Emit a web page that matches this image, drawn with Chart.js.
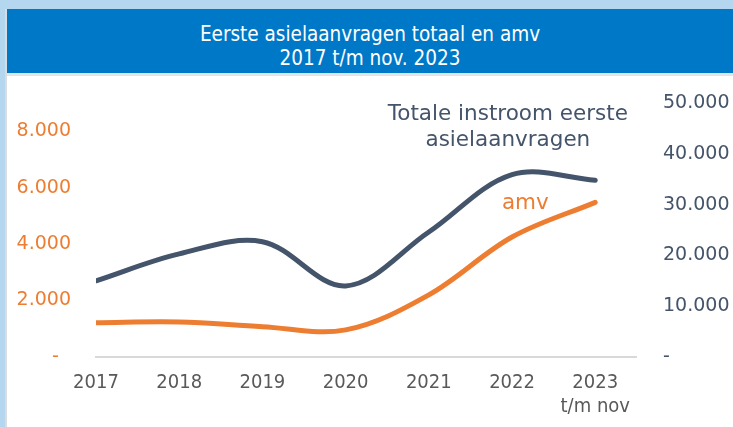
<!DOCTYPE html>
<html>
<head>
<meta charset="utf-8">
<script src="https://cdn.jsdelivr.net/npm/chart.js@4/dist/chart.umd.min.js"></script>
<style>
  html,body{margin:0;padding:0;}
  body{width:733px;height:427px;background:#b4d6ee;position:relative;overflow:hidden;}
  .panel{position:absolute;left:5px;top:9px;right:0;bottom:0;background:#fff;border-left:2px solid #d9dde2;}
  .band{background:#0078c8;color:#fff;text-align:center;
    font-family:"DejaVu Sans Condensed","DejaVu Sans",sans-serif;font-size:20.5px;line-height:24px;
    padding-top:13px;box-sizing:border-box;border-bottom:3px solid #e4e4e4;height:67px;}
  .wrap{position:absolute;left:0;top:67px;width:726px;height:351px;}
</style>
</head>
<body>
<div class="panel">
  <div class="band">Eerste asielaanvragen totaal en amv<br>2017 t/m nov. 2023</div>
  <div class="wrap"><canvas id="chart"></canvas></div>
</div>
<script>
// jaren (laatste jaar t/m november)
const years = ['2017','2018','2019','2020','2021','2022',['2023','t/m nov']];
// totale instroom eerste asielaanvragen (rechter as)
const totaal = [15000, 20300, 22700, 14000, 24600, 35900, 34800];
// alleenstaande minderjarige vreemdelingen (linker as)
const amv = [1215, 1240, 1075, 960, 2200, 4250, 5480];
const leftTicks = [0, 2000, 4000, 6000, 8000];
const rightTicks = [0, 10000, 20000, 30000, 40000, 50000];
const leftMax = 9000, rightMax = 50000;

const DARK = '#44546a', ORANGE = '#ed7d31';

function nlNum(v){
  if (v === 0) return '-';
  return v.toLocaleString('nl-NL');
}

// tekstlabels in data-coordinaten (x = jaarindex, y = rechter as)
const notes = [
  {lines:['Totale instroom eerste','asielaanvragen'], x:4.95, y:47800, color:DARK},
  {lines:['amv'], x:5.16, y:30300, color:ORANGE},
];
const notePlugin = {
  id:'notes',
  afterDatasetsDraw(chart){
    const {ctx, scales} = chart;
    ctx.save();
    ctx.font = '21.5px "DejaVu Sans", sans-serif';
    ctx.textAlign = 'center';
    ctx.textBaseline = 'middle';
    notes.forEach(n=>{
      ctx.fillStyle = n.color;
      const px = scales.x.getPixelForValue(n.x);
      const py = scales.y2.getPixelForValue(n.y);
      n.lines.forEach((t,i)=>ctx.fillText(t, px, py + i*26));
    });
    ctx.restore();
  }
};

function fixY(width){
  return s=>{ s.width = width; s.paddingTop = 0; s.paddingBottom = 0; };
}

const ctx = document.getElementById('chart').getContext('2d');
new Chart(ctx, {
  type:'line',
  data:{
    datasets:[
      {label:'Totaal', data:totaal.map((v,i)=>({x:i,y:v})), yAxisID:'y2',
        borderColor:DARK, borderWidth:5, borderCapStyle:'round', pointRadius:0, tension:0.35},
      {label:'amv', data:amv.map((v,i)=>({x:i,y:v})), yAxisID:'y',
        borderColor:ORANGE, borderWidth:5, borderCapStyle:'round', pointRadius:0, tension:0.35},
    ]
  },
  options:{
    responsive:true, maintainAspectRatio:false, animation:false,
    layout:{padding:{top:27, left:0, right:0, bottom:0}},
    plugins:{legend:{display:false}, tooltip:{enabled:false}},
    scales:{
      x:{type:'linear', min:0, max:6.49,
        grid:{display:false, drawTicks:false},
        border:{display:true, color:'#d9d9d9', width:2},
        afterFit(s){ s.height = 70; s.paddingLeft = 0; s.paddingRight = 0; },
        ticks:{stepSize:1, includeBounds:false, autoSkip:false, maxRotation:0, padding:14,
          color:'#595959', font:{family:'"DejaVu Sans Condensed","DejaVu Sans",sans-serif', size:20, lineHeight:1.2},
          callback:v=>years[v]}},
      y:{position:'left', min:0, max:leftMax,
        grid:{display:false, drawTicks:false}, border:{display:false},
        afterBuildTicks(s){ s.ticks = leftTicks.map(v=>({value:v})); },
        afterFit:fixY(89),
        ticks:{padding:25, color:ORANGE,
          font:{family:'"DejaVu Sans",sans-serif', size:19},
          callback:v=>v===0?'-  ':nlNum(v)}},
      y2:{position:'right', min:0, max:rightMax,
        grid:{display:false, drawTicks:false}, border:{display:false},
        afterBuildTicks(s){ s.ticks = rightTicks.map(v=>({value:v})); },
        afterFit:fixY(97),
        ticks:{padding:27, color:DARK,
          font:{family:'"DejaVu Sans",sans-serif', size:19},
          callback:v=>nlNum(v)}}
    }
  },
  plugins:[notePlugin]
});
</script>
</body>
</html>
